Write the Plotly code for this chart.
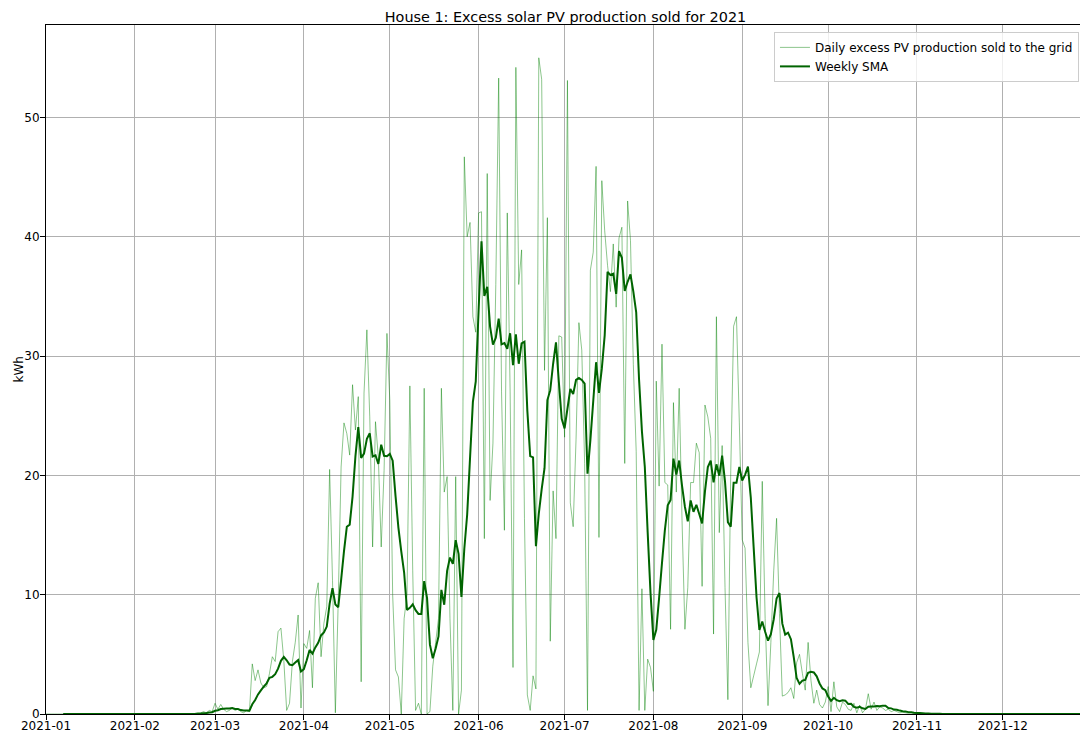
import pandas as pd
import plotly.graph_objects as go

# Daily excess PV production sold to the grid (kWh), read month by month
jan = [0, 0, 0, 0, 0, 0, 0, 0, 0, 0, 0, 0, 0, 0, 0, 0, 0, 0, 0, 0, 0, 0, 0, 0, 0, 0, 0, 0, 0, 0, 0]
feb = [0, 0, 0, 0, 0, 0, 0, 0, 0, 0, 0, 0, 0, 0, 0, 0, 0, 0, 0, 0, 0,
       0.05, 0.1, 0.1, 0.2, 0.1, 0.3, 0.2]
mar = [0.9, 0.4, 0.8, 0.4, 0.2, 0.3, 0.5, 0.3, 0.4, 0.2, 0.1, 0.3, 0.2,
       4.2, 2.8, 3.7, 2.6, 2.2, 2.3, 3.4, 4.8, 4.4, 6.9, 7.2, 4.5, 0.3, 0.9, 4.4, 6.0, 8.3, 0.5]
apr = [5.9, 5.5, 7.0, 2.2, 9.7, 11.0, 4.8, 7.6, 9.0, 20.5, 11.2, 0.1, 9.5, 20.7, 24.4,
       23.5, 21.7, 27.6, 23.8, 26.6, 2.7, 26.9, 32.2, 24.9, 14.0, 24.5, 21.5, 14.0, 20.4, 31.9]
may = [26.3, 10.0, 3.7, 3.1, 0.0, 8.0, 10.0, 27.5, 12.0, 0.3, 0.9, 0.0, 27.3, 0.0, 0.2, 4.0,
       6.0, 8.0, 27.3, 18.6, 19.9, 8.0, 0.3, 19.9, 0.0, 2.0, 46.7, 40.0, 41.2, 33.3, 32.0]
jun = [42.0, 42.1, 14.7, 45.3, 17.9, 22.7, 36.0, 53.3, 27.0, 15.4, 42.0, 27.0, 3.9, 54.2, 36.0,
       38.9, 16.4, 1.6, 0.3, 3.2, 2.1, 55.0, 53.2, 28.8, 41.6, 6.1, 18.7, 14.7, 31.7, 31.6]
jul = [23.2, 53.1, 17.7, 15.7, 23.0, 32.8, 30.5, 21.0, 0.3, 37.2, 38.7, 45.9, 14.8, 44.7, 40.5,
       37.6, 35.4, 39.4, 34.1, 39.9, 40.8, 21.0, 43.0, 39.7, 29.3, 22.0, 0.3, 10.5, 0.3, 4.6, 3.9]
aug = [1.9, 27.9, 19.1, 31.0, 19.4, 19.2, 7.1, 26.1, 18.6, 27.3, 16.2, 7.1, 10.6, 19.4, 19.4,
       22.7, 21.9, 10.7, 25.9, 24.9, 23.1, 6.7, 33.3, 15.2, 22.5, 10.6, 1.2, 20.4, 32.5, 33.3, 24.4]
sep = [14.6, 13.9, 6.0, 2.2, 3.2, 4.2, 5.2, 19.5, 8.0, 0.7, 6.0, 12.0, 16.4, 8.4, 1.5,
       1.6, 1.8, 2.2, 1.3, 4.3, 5.0, 3.4, 2.0, 6.0, 2.8, 0.9, 2.0, 0.8, 0.5, 1.0]
oct_ = [2.3, 0.2, 2.7, 0.6, 0.2, 1.0, 0.8, 0.4, 0.3, 0.9, 0.1, 0.75, 0.1, 0.4, 1.7, 0.4,
        1.0, 0.3, 0.6, 0.5, 0.3, 0.4, 0.2, 0.3, 0.2, 0.1, 0.15, 0.1, 0.05, 0.1, 0.05]
nov = [0.05, 0.03, 0.05, 0.02, 0, 0, 0.02, 0, 0, 0, 0, 0, 0, 0, 0,
       0, 0, 0, 0, 0, 0, 0, 0, 0, 0, 0, 0, 0, 0, 0]
dec = [0, 0, 0, 0, 0, 0, 0, 0, 0, 0, 0, 0, 0, 0, 0, 0,
       0, 0, 0, 0, 0, 0, 0, 0, 0, 0, 0, 0, 0, 0, 0]

month_ticks = ["2021-01", "2021-02", "2021-03", "2021-04", "2021-05", "2021-06",
               "2021-07", "2021-08", "2021-09", "2021-10", "2021-11", "2021-12"]

daily = jan + feb + mar + apr + may + jun + jul + aug + sep + oct_ + nov + dec
dates = pd.date_range("2021-01-01", periods=len(daily), freq="D")
series = pd.Series(daily, index=dates)
sma = series.rolling(7).mean()

fig = go.Figure()
fig.add_trace(go.Scatter(
    x=dates, y=series.values, mode="lines",
    name="Daily excess PV production sold to the grid",
    line=dict(color="rgba(0,128,0,0.5)", width=0.9, simplify=False),
))
fig.add_trace(go.Scatter(
    x=dates, y=sma.values, mode="lines",
    name="Weekly SMA",
    line=dict(color="#006400", width=2, simplify=False),
))

font = "DejaVu Sans, Arial, sans-serif"
fig.update_layout(
    width=1080, height=735,
    margin=dict(l=46, r=0, t=25, b=21, autoexpand=False),
    paper_bgcolor="white", plot_bgcolor="white",
    font=dict(family=font, size=12, color="black"),
    title=dict(text="House 1: Excess solar PV production sold for 2021",
               font=dict(family=font, size=14.4, color="black"),
               x=565.5 / 1080, xanchor="center", xref="container",
               y=1 - 17 / 735, yanchor="middle", yref="container"),
    showlegend=True,
    legend=dict(x=0.999, xanchor="right", y=0.99, yanchor="top",
                bgcolor="rgba(255,255,255,0.8)", bordercolor="#cccccc", borderwidth=1,
                font=dict(family=font, size=12, color="black"),
                itemwidth=30, tracegroupgap=0),
    xaxis=dict(
        type="date",
        range=["2021-01-01", "2021-12-27 21:36"],
        tickvals=[t + "-01" for t in month_ticks],
        ticktext=month_ticks,
        ticks="outside", ticklen=5, tickwidth=1, tickcolor="black",
        ticklabelstandoff=-4,
        showgrid=True, gridcolor="#b0b0b0", gridwidth=1,
        showline=True, linecolor="black", linewidth=1, mirror=True,
        zeroline=False, automargin=False,
        tickfont=dict(family=font, size=12, color="black"),
    ),
    yaxis=dict(
        range=[0, 57.75],
        tickvals=[0, 10, 20, 30, 40, 50],
        ticks="outside", ticklen=5, tickwidth=1, tickcolor="black",
        ticklabelstandoff=-2,
        showgrid=True, gridcolor="#b0b0b0", gridwidth=1,
        showline=True, linecolor="black", linewidth=1,
        zeroline=False, automargin=False,
        tickfont=dict(family=font, size=12, color="black"),
    ),
    annotations=[dict(text="kWh", xref="paper", yref="paper",
                      x=(18 - 46) / 1034, y=0.5, xanchor="center", yanchor="middle",
                      textangle=-90, showarrow=False,
                      font=dict(family=font, size=12, color="black"))],
)

fig.write_html(
    "out.html",
    config={"displayModeBar": False},
    post_script="document.body.style.margin='0';document.body.style.overflow='hidden';",
)
